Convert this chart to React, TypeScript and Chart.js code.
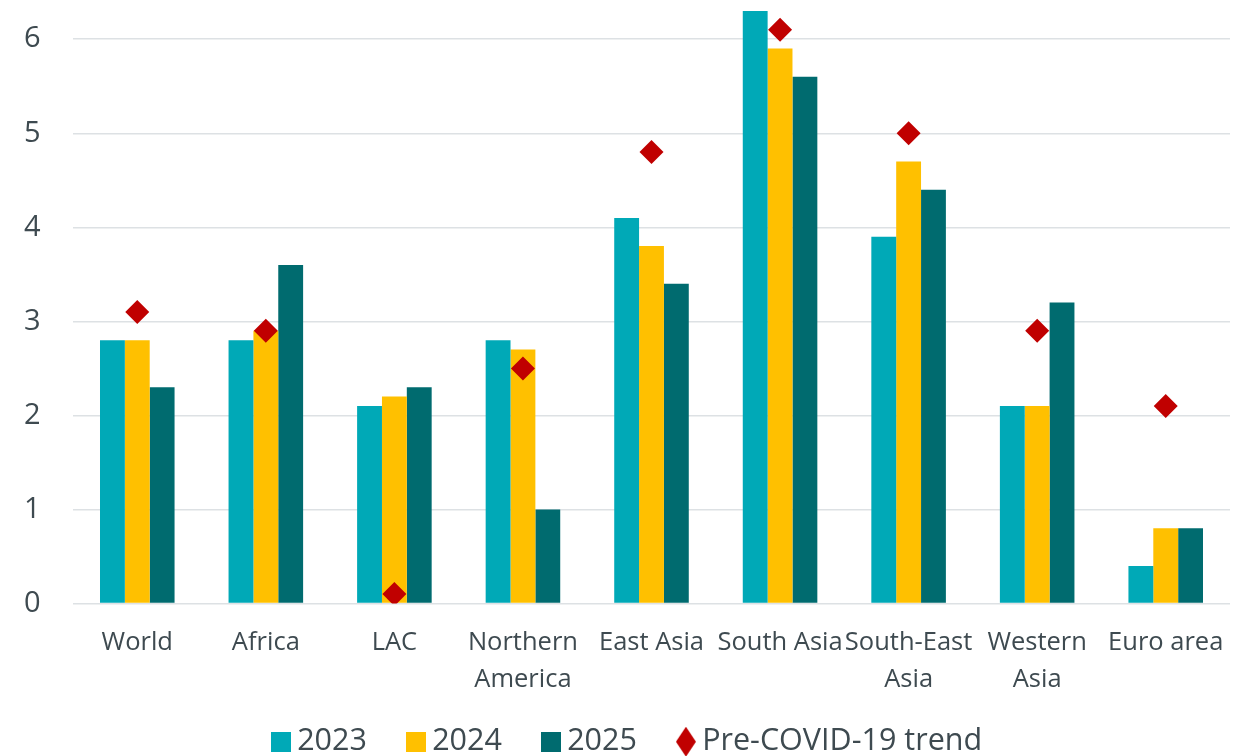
import React, { useEffect, useRef } from "react";
import { Chart, registerables } from "chart.js";

Chart.register(...registerables);

const categories: (string | string[])[] = [
  "World",
  "Africa",
  "LAC",
  ["Northern", "America"],
  "East Asia",
  "South Asia",
  ["South-East", "Asia"],
  ["Western", "Asia"],
  "Euro area",
];
const values2023 = [2.8, 2.8, 2.1, 2.8, 4.1, 6.3, 3.9, 2.1, 0.4];
const values2024 = [2.8, 2.9, 2.2, 2.7, 3.8, 5.9, 4.7, 2.1, 0.8];
const values2025 = [2.3, 3.6, 2.3, 1.0, 3.4, 5.6, 4.4, 3.2, 0.8];
const trendValues = [3.1, 2.9, 0.1, 2.5, 4.8, 6.1, 5.0, 2.9, 2.1];
const yTicks = [0, 1, 2, 3, 4, 5, 6];
const legendOrder = ["2023", "2024", "2025", "Pre-COVID-19 trend"];

const FONT = "'Open Sans', 'Noto Sans', sans-serif";
const TEXT = "#3e4a50";
const C2023 = "#00a9b7";
const C2024 = "#ffc000";
const C2025 = "#006b6f";
const CRED = "#c00000";

function makeSquare(color: string): HTMLCanvasElement {
  const c = document.createElement("canvas");
  c.width = 20;
  c.height = 20;
  const ctx = c.getContext("2d")!;
  ctx.fillStyle = color;
  ctx.fillRect(0, 0, 20, 20);
  return c;
}

function makeDiamond(color: string): HTMLCanvasElement {
  const c = document.createElement("canvas");
  c.width = 20;
  c.height = 30;
  const ctx = c.getContext("2d")!;
  ctx.fillStyle = color;
  ctx.beginPath();
  ctx.moveTo(10, 0);
  ctx.lineTo(20, 15);
  ctx.lineTo(10, 30);
  ctx.lineTo(0, 15);
  ctx.closePath();
  ctx.fill();
  return c;
}

// Moves the legend up so it sits right under the two-line category labels.
const legendShift = {
  id: "legendShift",
  afterLayout(chart: any) {
    const lg = chart.legend;
    if (!lg) return;
    lg.top -= 29;
    lg.bottom -= 29;
    lg.left += 4;
    lg.right += 4;
  },
};

export default function App() {
  const ref = useRef<HTMLCanvasElement | null>(null);

  useEffect(() => {
    document.body.style.margin = "0";
    if (!ref.current) return;
    const legendIcons: Record<string, HTMLCanvasElement> = {
      "2023": makeSquare(C2023),
      "2024": makeSquare(C2024),
      "2025": makeSquare(C2025),
      "Pre-COVID-19 trend": makeDiamond(CRED),
    };
    const chart = new Chart(ref.current, {
      type: "bar",
      plugins: [legendShift],
      data: {
        labels: categories,
        datasets: [
          {
            type: "line",
            label: "Pre-COVID-19 trend",
            data: trendValues,
            showLine: false,
            pointStyle: "rectRot",
            pointRadius: 12,
            pointHoverRadius: 12,
            backgroundColor: CRED,
            borderColor: CRED,
            pointBorderWidth: 0,
            borderWidth: 0,
            order: 0,
          } as any,
          { label: "2023", data: values2023, backgroundColor: C2023, order: 1 },
          { label: "2024", data: values2024, backgroundColor: C2024, order: 1 },
          { label: "2025", data: values2025, backgroundColor: C2025, order: 1 },
        ],
      },
      options: {
        animation: false,
        responsive: true,
        maintainAspectRatio: false,
        layout: { autoPadding: false, padding: { top: 11, left: 24, right: 11, bottom: 0 } },
        datasets: { bar: { categoryPercentage: 0.58, barPercentage: 1 } },
        scales: {
          x: {
            grid: { display: false, drawTicks: false },
            border: { display: false },
            afterFit: (scale: any) => {
              scale.height = 104;
              scale.paddingLeft = 0;
              scale.paddingRight = 0;
            },
            ticks: {
              autoSkip: false,
              maxRotation: 0,
              color: TEXT,
              padding: 20,
              font: { family: FONT, size: 25.5, lineHeight: 1.48 },
            },
          },
          y: {
            min: 0,
            max: 6.3,
            afterBuildTicks: (scale: any) => {
              scale.ticks = yTicks.map((v) => ({ value: v }));
            },
            afterFit: (scale: any) => {
              scale.width = 49;
              scale.paddingTop = 0;
              scale.paddingBottom = 0;
            },
            grid: { color: "#dde1e4", lineWidth: 1.5, drawTicks: false },
            border: { display: false },
            ticks: { color: TEXT, padding: 0, crossAlign: "far", font: { family: FONT, size: 29 } },
          },
        },
        plugins: {
          tooltip: { enabled: false },
          legend: {
            position: "bottom",
            labels: {
              usePointStyle: true,
              boxHeight: 2,
              boxWidth: 2,
              color: TEXT,
              padding: 48,
              font: { family: FONT, size: 30.5, lineHeight: 1 },
              generateLabels: (ch: any) => {
                const items = Chart.defaults.plugins.legend.labels.generateLabels(ch);
                items.sort((a: any, b: any) => legendOrder.indexOf(a.text) - legendOrder.indexOf(b.text));
                items.forEach((it: any) => {
                  it.lineWidth = 0;
                  it.strokeStyle = "rgba(0,0,0,0)";
                  it.fontColor = TEXT;
                  it.pointStyle = legendIcons[it.text];
                  it.rotation = 0;
                });
                return items;
              },
            },
          },
        },
      },
    });
    return () => chart.destroy();
  }, []);

  return (
    <div style={{ position: "fixed", left: 0, top: 0, width: 1241, height: 756, overflow: "hidden", background: "#fff" }}>
      <div style={{ position: "relative", width: 1241, height: 796 }}>
        <canvas ref={ref} />
      </div>
    </div>
  );
}
